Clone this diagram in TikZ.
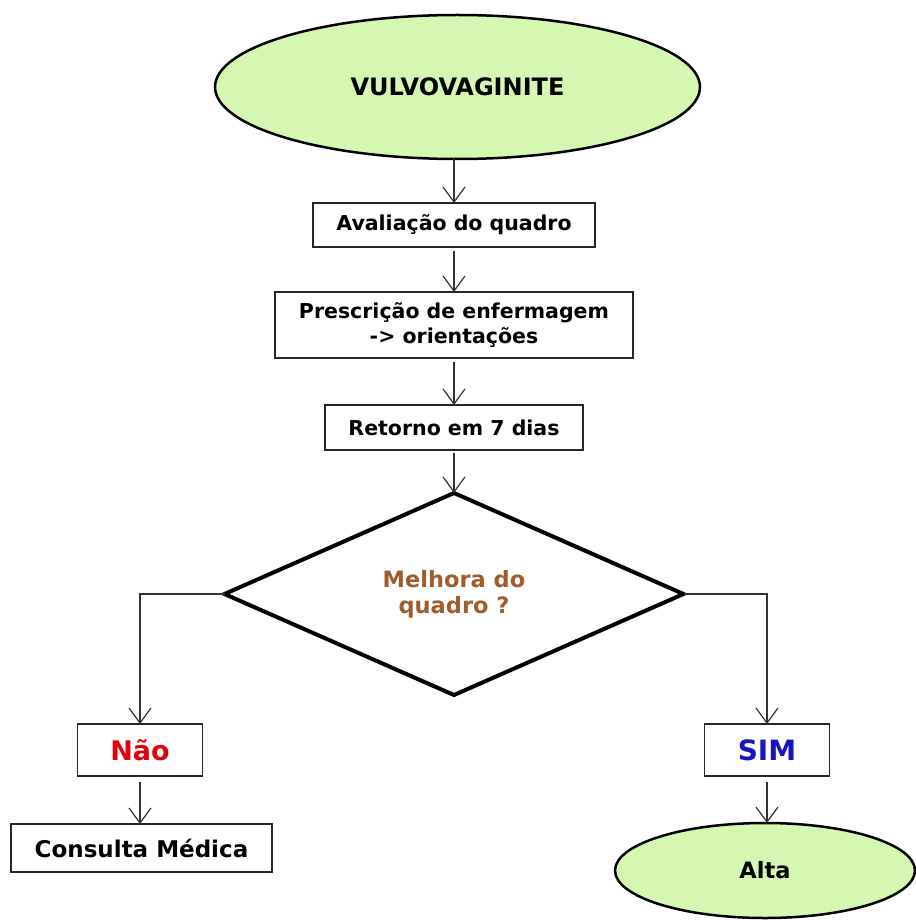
\documentclass[tikz,border=0pt]{standalone}
\usepackage{fontspec}
\setmainfont{DejaVu Sans}
\usetikzlibrary{shapes.geometric,arrows.meta}
\definecolor{termfill}{RGB}{214,247,178}
\definecolor{qbrown}{RGB}{160,92,42}
\definecolor{nored}{RGB}{228,0,10}
\definecolor{yesblue}{RGB}{22,22,190}
\begin{document}
\begin{tikzpicture}[x=1pt,y=-1pt,
  termnode/.style={ellipse,draw=black,line width=2.5pt,fill=termfill,inner sep=0pt,outer sep=0pt},
  boxnode/.style={rectangle,draw=black!85,line width=1.8pt,fill=white,inner sep=0pt,outer sep=0pt,align=center},
  decnode/.style={diamond,draw=black,line width=4pt,fill=white,inner sep=0pt,outer sep=0pt,align=center},
  arr/.style={draw=black!80,line width=1.2pt,-{Straight Barb[length=15pt,width=22pt]}}]
\useasboundingbox[fill=white] (0,0) rectangle (915,920);

\node[termnode,minimum width=485pt,minimum height=144pt,font=\bfseries\fontsize{24}{29}\selectfont] (top) at (457.5,87) {VULVOVAGINITE};
\node[boxnode,minimum width=282pt,minimum height=44pt,font=\bfseries\fontsize{20.5}{25}\selectfont] (aval) at (454,225) {Avaliação do quadro};
\node[boxnode,minimum width=358pt,minimum height=66pt,font=\bfseries\fontsize{20.5}{25}\selectfont] (presc) at (454,325) {Prescrição de enfermagem\\-> orientações};
\node[boxnode,minimum width=258pt,minimum height=45pt,font=\bfseries\fontsize{20.5}{25}\selectfont] (ret) at (454,427.5) {Retorno em 7 dias};
\node[decnode,minimum width=459pt,minimum height=202pt,text=qbrown,font=\bfseries\fontsize{22.5}{26}\selectfont] (dec) at (454,594) {Melhora do\\quadro ?};
\node[boxnode,minimum width=125pt,minimum height=52pt,text=nored,font=\bfseries\fontsize{27}{32}\selectfont] (nao) at (140,750) {Não};
\node[boxnode,minimum width=125pt,minimum height=52pt,text=yesblue,font=\bfseries\fontsize{28}{33}\selectfont] (sim) at (767,750) {SIM};
\node[boxnode,minimum width=261pt,minimum height=48pt,font=\bfseries\fontsize{23}{28}\selectfont] (cons) at (141.5,848) {Consulta Médica};
\node[termnode,minimum width=300pt,minimum height=95pt,font=\bfseries\fontsize{22.5}{27}\selectfont] (alta) at (765,870.5) {Alta};

\draw[arr] (aval.north |- top.south) -- (aval.north);
\draw[arr,shorten <=4pt] (aval.south) -- (presc.north);
\draw[arr,shorten <=4pt] (presc.south) -- (ret.north);
\draw[arr,shorten <=3pt] (ret.south) -- (dec.north);
\draw[arr] (dec.west) -| (nao.north);
\draw[arr] (dec.east) -| (sim.north);
\draw[arr,shorten <=6pt] (nao.south) -- (nao.south |- cons.north);
\draw[arr,shorten <=6pt] (sim.south) -- (sim.south |- alta.north);
\end{tikzpicture}
\end{document}
